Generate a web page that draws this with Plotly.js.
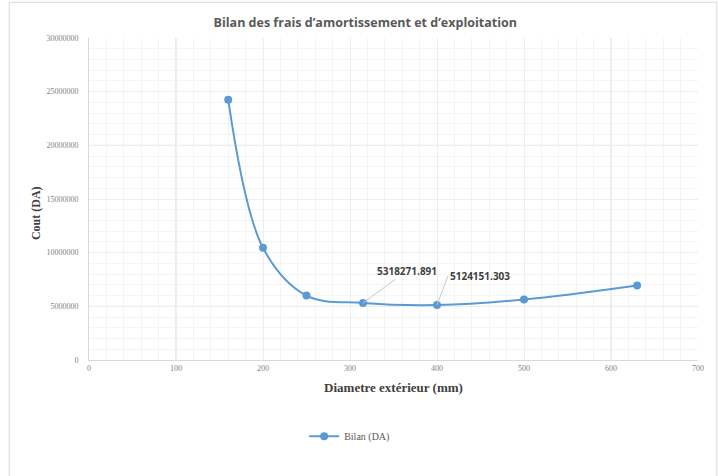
<!DOCTYPE html>
<html>
<head>
<meta charset="utf-8">
<script src="https://cdn.plot.ly/plotly-3.0.1.min.js"></script>
<style>
  html, body { margin: 0; padding: 0; background: #ffffff; }
  #chart { width: 719px; height: 476px; }
</style>
</head>
<body>
<div id="chart"></div>
<script>
// Outside diameter of the pipe (mm)
const diametres = [160, 200, 250, 315, 400, 500, 630];
// Total yearly cost: depreciation + operating costs (DA)
const bilan = [24250000, 10450000, 6000000, 5318271.891, 5124151.303, 5640000, 6950000];
// Points whose value is written on the chart
const labelledIdx = [3, 4];
const seriesName = 'Bilan (DA)';

const blue = '#5B9BD5';
const serif = '"Liberation Serif", "DejaVu Serif", serif';
const sans = '"Open Sans", "Noto Sans", sans-serif';

const trace = {
  x: diametres,
  y: bilan,
  type: 'scatter',
  mode: 'lines+markers',
  name: seriesName,
  line: { color: blue, width: 2, shape: 'spline', smoothing: 1 },
  marker: { color: blue, size: 8 },
  hoverinfo: 'x+y'
};

// Leader-line offsets (px) and text anchoring for each value label
const labelStyle = [
  { ax: 44, ay: -32, xanchor: 'center' },
  { ax: 11, ay: -29, xanchor: 'left' }
];
const annotations = labelledIdx.map((i, k) => ({
  x: diametres[i],
  y: bilan[i],
  xref: 'x', yref: 'y',
  text: String(bilan[i]),
  showarrow: true,
  arrowhead: 0,
  arrowwidth: 1,
  arrowcolor: '#c8c8c8',
  ax: labelStyle[k].ax,
  ay: labelStyle[k].ay,
  xanchor: labelStyle[k].xanchor,
  font: { family: sans, size: 10, color: '#404040', weight: 'bold' }
}));

// Y-axis title drawn as a rotated annotation
annotations.push({
  xref: 'paper', yref: 'paper',
  x: -0.086, y: 0.455,
  xanchor: 'center', yanchor: 'middle',
  textangle: -90,
  showarrow: false,
  text: 'Cout (DA)',
  font: { family: serif, size: 12, color: '#404040', weight: 'bold' }
});

// Chart frame and slightly stronger grid lines
const shapes = [
  { type: 'rect', xref: 'paper', yref: 'paper', x0: -0.131, x1: 1.031, y0: -0.5, y1: 1.111,
    line: { color: '#d9d9d9', width: 1 }, layer: 'below' },
  { type: 'line', xref: 'x', yref: 'paper', x0: 100, x1: 100, y0: 0, y1: 1, line: { color: '#d9d9d9', width: 1 }, layer: 'below' },
  { type: 'line', xref: 'x', yref: 'paper', x0: 600, x1: 600, y0: 0, y1: 1, line: { color: '#d9d9d9', width: 1 }, layer: 'below' },
  { type: 'line', xref: 'paper', yref: 'y', x0: 0, x1: 1, y0: 5000000, y1: 5000000, line: { color: '#d9d9d9', width: 1 }, layer: 'below' },
  { type: 'line', xref: 'paper', yref: 'y', x0: 0, x1: 1, y0: 20000000, y1: 20000000, line: { color: '#d9d9d9', width: 1 }, layer: 'below' }
];

const layout = {
  width: 719,
  height: 476,
  margin: { l: 89, r: 21, t: 38, b: 115.5, pad: 0 },
  paper_bgcolor: '#ffffff',
  plot_bgcolor: '#ffffff',
  title: {
    text: 'Bilan des frais d\u2019amortissement et d\u2019exploitation',
    font: { family: sans, size: 12.5, color: '#595959', weight: 'bold' },
    xref: 'container', x: 0.508, xanchor: 'center',
    yref: 'container', y: 0.953, yanchor: 'middle'
  },
  xaxis: {
    range: [0, 700],
    dtick: 100,
    tick0: 0,
    showgrid: true,
    gridcolor: '#eeeeee',
    gridwidth: 1,
    minor: { dtick: 20, showgrid: true, gridcolor: '#f4f4f4', gridwidth: 1 },
    showline: true,
    linecolor: '#d9d9d9',
    zeroline: false,
    ticks: '',
    tickfont: { family: serif, size: 8, color: '#7f7f7f' },
    title: {
      text: 'Diametre ext\u00e9rieur (mm)',
      font: { family: serif, size: 13, color: '#404040', weight: 'bold' },
      standoff: 11
    }
  },
  yaxis: {
    range: [0, 30000000],
    dtick: 5000000,
    tick0: 0,
    tickformat: 'd',
    showgrid: true,
    gridcolor: '#eeeeee',
    gridwidth: 1,
    minor: { dtick: 1000000, showgrid: true, gridcolor: '#f4f4f4', gridwidth: 1 },
    showline: true,
    linecolor: '#d9d9d9',
    zeroline: false,
    ticks: '',
    ticklabelstandoff: 8,
    tickfont: { family: serif, size: 8, color: '#7f7f7f' }
  },
  showlegend: true,
  legend: {
    orientation: 'h',
    x: 0.428, xanchor: 'center',
    y: -0.237, yanchor: 'middle',
    itemwidth: 30,
    font: { family: serif, size: 10, color: '#595959' },
    bgcolor: 'rgba(0,0,0,0)'
  },
  annotations: annotations,
  shapes: shapes
};

Plotly.newPlot('chart', [trace], layout, { displayModeBar: false, staticPlot: true });
</script>
</body>
</html>
